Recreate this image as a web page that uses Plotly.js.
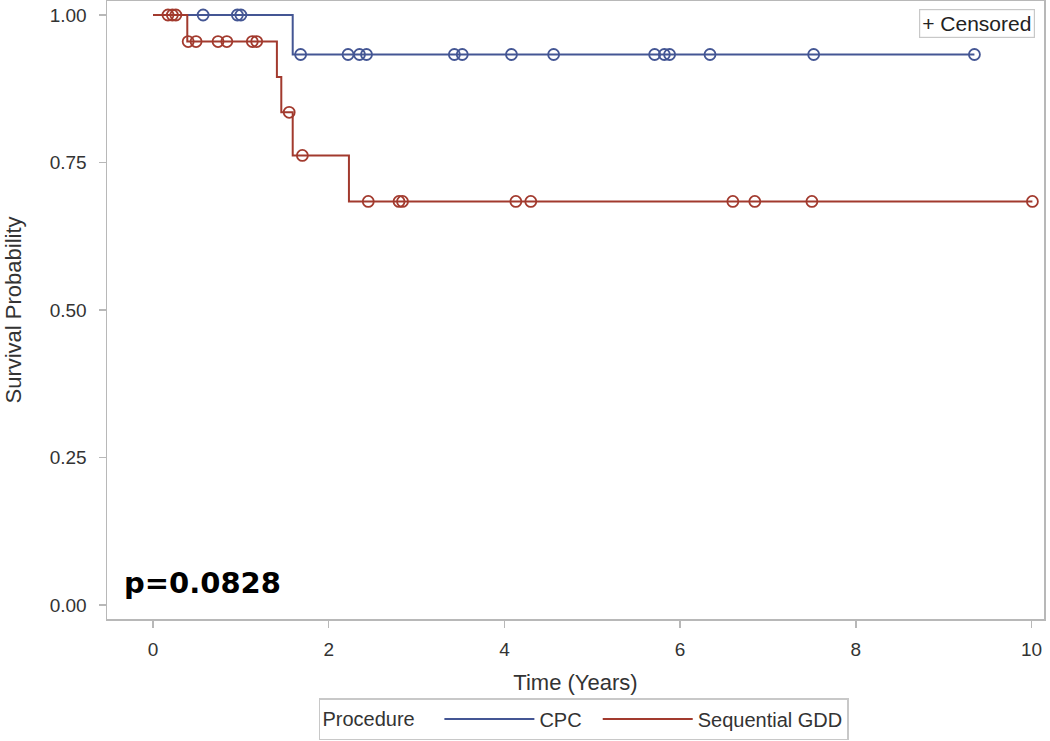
<!DOCTYPE html>
<html><head><meta charset="utf-8">
<script src="https://cdn.plot.ly/plotly-3.0.1.min.js"></script>
<style>html,body{margin:0;padding:0;background:#fff}#chart{width:1050px;height:741px}</style>
</head><body><div id="chart"></div>
<script>
// Kaplan-Meier step curves (time in years, survival probability)
const cpcStepTime = [0, 1.59, 9.35];
const cpcStepSurv = [1.0, 0.933, 0.933];
const gddStepTime = [0, 0.39, 1.41, 1.46, 1.59, 2.23, 10.01];
const gddStepSurv = [1.0, 0.955, 0.895, 0.835, 0.762, 0.684, 0.684];

// Censored observations
const cpcCensTime = [0.57, 0.96, 1.00, 1.68, 2.22, 2.35, 2.43, 3.43, 3.52, 4.08, 4.56, 5.71, 5.82, 5.88, 6.34, 7.52, 9.35];
const cpcCensSurv = [1.0, 1.0, 1.0, 0.933, 0.933, 0.933, 0.933, 0.933, 0.933, 0.933, 0.933, 0.933, 0.933, 0.933, 0.933, 0.933, 0.933];
const gddCensTime = [0.17, 0.22, 0.26, 0.40, 0.49, 0.74, 0.84, 1.13, 1.18, 1.55, 1.70, 2.45, 2.80, 2.84, 4.13, 4.30, 6.60, 6.85, 7.50, 10.01];
const gddCensSurv = [1.0, 1.0, 1.0, 0.955, 0.955, 0.955, 0.955, 0.955, 0.955, 0.835, 0.762, 0.684, 0.684, 0.684, 0.684, 0.684, 0.684, 0.684, 0.684, 0.684];

const groupNames = ['CPC', 'Sequential GDD'];
const xTicks = [0, 2, 4, 6, 8, 10];
const yTicks = [0, 0.25, 0.5, 0.75, 1.0];
const pText = 'p=0.0828';

const blue = '#445694';
const red = '#A23A2E';
const frame = '#b8b8b8';
const txt = '#333333';
const font = 'Liberation Sans, Arial, sans-serif';
const nb = '\u00a0';

const traces = [
  {x: cpcStepTime, y: cpcStepSurv, mode: 'lines', line: {shape: 'hv', color: blue, width: 2}, name: groupNames[0] + nb + nb, legendrank: 1},
  {x: gddStepTime, y: gddStepSurv, mode: 'lines', line: {shape: 'hv', color: red, width: 2}, name: groupNames[1], legendrank: 2},
  {x: cpcCensTime, y: cpcCensSurv, mode: 'markers', marker: {symbol: 'circle-open', size: 11, color: blue, line: {width: 1.8}}, showlegend: false, hoverinfo: 'skip'},
  {x: gddCensTime, y: gddCensSurv, mode: 'markers', marker: {symbol: 'circle-open', size: 11, color: red, line: {width: 1.8}}, showlegend: false, hoverinfo: 'skip'}
];

const layout = {
  width: 1050, height: 741,
  margin: {l: 107, r: 6, t: 1, b: 122, autoexpand: false},
  paper_bgcolor: '#fff', plot_bgcolor: '#fff',
  font: {family: font, color: txt, size: 19},
  showlegend: true,
  xaxis: {
    range: [-0.524, 10.142], tickvals: xTicks, ticktext: xTicks.map(String),
    showgrid: false, zeroline: false, showline: true, mirror: true,
    linecolor: frame, linewidth: 1.5, ticks: 'outside', ticklen: 7, tickcolor: frame, tickwidth: 1.5,
    ticklabelstandoff: 6,
    tickfont: {size: 19, color: txt, family: font},
    title: {text: 'Time (Years)', font: {size: 22, color: txt, family: font}, standoff: 15}
  },
  yaxis: {
    range: [-0.0237, 1.0237], tickvals: yTicks, ticktext: yTicks.map(v => v.toFixed(2)),
    showgrid: false, zeroline: false, showline: true, mirror: true,
    linecolor: frame, linewidth: 1.5, ticks: 'outside', ticklen: 7, tickcolor: frame, tickwidth: 1.5,
    ticklabelstandoff: 8,
    tickfont: {size: 19, color: txt, family: font},
    title: {text: 'Survival Probability', font: {size: 22, color: txt, family: font}, standoff: 22}
  },
  legend: {
    orientation: 'h', x: 0.509, xanchor: 'center', y: -0.1958, yanchor: 'bottom',
    bordercolor: '#c8c8c8', borderwidth: 1.5, bgcolor: '#fff',
    font: {size: 20, color: txt, family: font},
    title: {text: 'Procedure' + nb + nb + nb, side: 'left', font: {size: 20, color: txt, family: font}},
    itemwidth: 90, traceorder: 'normal'
  },
  annotations: [
    {xref: 'paper', yref: 'paper', x: 0.99, y: 0.987, xanchor: 'right', yanchor: 'top',
     text: '+ Censored', showarrow: false, font: {size: 21, color: '#222', family: font},
     bordercolor: '#c8c8c8', borderwidth: 1.2, borderpad: 2, bgcolor: '#fff'},
    {xref: 'paper', yref: 'paper', x: 0.016, y: 0.058, xanchor: 'left', yanchor: 'middle',
     text: '<b>' + pText + '</b>', showarrow: false,
     font: {size: 29, color: '#000', family: 'DejaVu Sans, sans-serif'}}
  ]
};

Plotly.newPlot('chart', traces, layout, {displayModeBar: false, staticPlot: true});
</script>
</body></html>
